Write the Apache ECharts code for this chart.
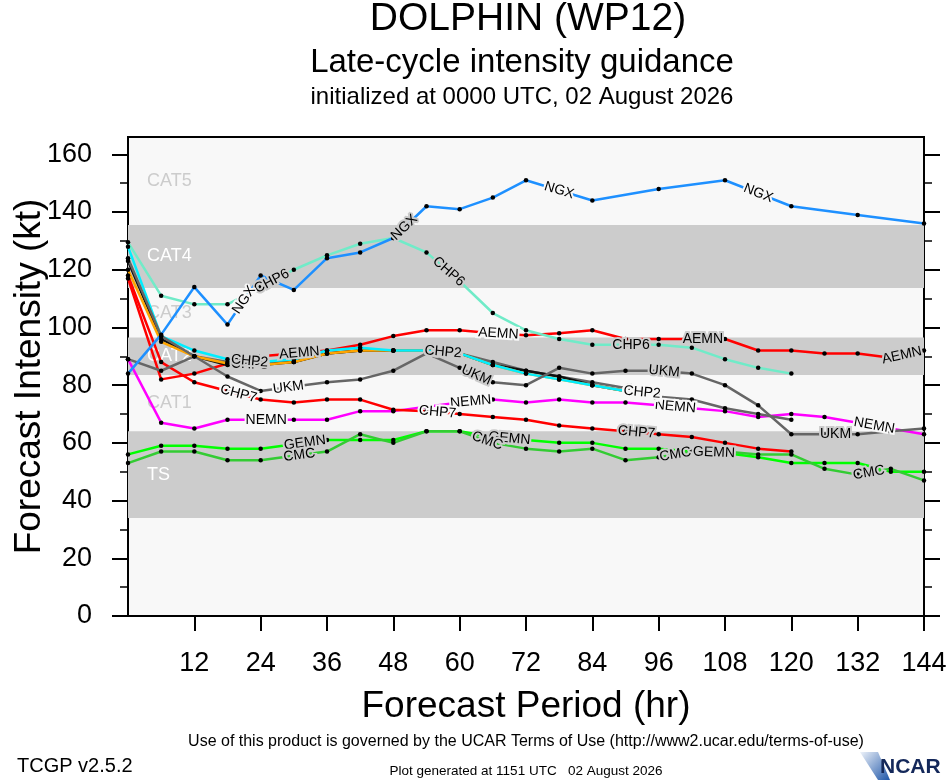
<!doctype html>
<html>
<head>
<meta charset="utf-8">
<title>DOLPHIN (WP12) late-cycle intensity guidance</title>
<style>
html, body { margin: 0; padding: 0; background: #fff; }
#chart { width: 946px; height: 780px; }
</style>
</head>
<body>
<div id="chart"></div>
<script src="https://cdn.jsdelivr.net/npm/echarts@6/dist/echarts.min.js"></script>
<script>
// forecast hours (6-hourly), ticks
const hours = [0, 6, 12, 18, 24, 30, 36, 42, 48, 54, 60, 66, 72, 78, 84, 90, 96, 102, 108, 114, 120, 126, 132, 138, 144];
const xTicks = [12, 24, 36, 48, 60, 72, 84, 96, 108, 120, 132, 144];
const yTicks = [0, 20, 40, 60, 80, 100, 120, 140, 160];
const yMinorTicks = [10, 30, 50, 70, 90, 110, 130, 150];

// intensity categories (kt)
const bandNames = ['TS', 'CAT1', 'CAT2', 'CAT3', 'CAT4', 'CAT5'];
const bandLow = [34, 64, 83.5, 96.5, 113.7, 135.5];
const bandHigh = [64, 83.5, 96.5, 113.7, 135.5, 166];
const bandShaded = [true, false, true, false, true, false];

// model intensities (kt), one value per entry of hours, null = no forecast
const gemn = [56, 59, 59, 58, 58, 59.5, 61, 61, 61, 64, 64, 62, 61, 60, 60, 58, 58, 57, 56.5, 55, 53, 53, 53, 50, 50];
const cmc  = [53, 57, 57, 54, 54, 55.5, 57, 63, 60, 64, 64, 60, 58, 57, 58, 54, 55, 57, 57, 56, 56, 51, 49, 51, 47];
const nemn = [89, 67, 65, 68, 68, 68, 68, 71, 71, 72.5, 74, 75, 74, 75, 74, 74, 73, 72, 71, 69, 70, 69, 67, 65, 63];
const chp7 = [118, 88, 81, 78, 75, 74, 75, 75, 71.5, 71, 70, 69, 68, 66, 65, 64, 63, 62, 60, 58, 57, null, null, null, null];
const aemn = [117, 82, 84, 87.5, 90, 91, 92, 94, 97, 99, 99, 98, 97.3, 98, 99, 96, 96, 96, 96, 92, 92, 91, 91, 89.5, 92];
const chp5 = [89, 85, 90, 88, 88, 88, 91, 92, 92, 92, 91, 88, 85, 83, 81, 79, 76, 75, 72, 70, 68, null, null, null, null];
const chp4 = [123, 96, 90, 87, 87, 88, 91, 92, 92, 92, 91, 87, 85, 83, 80, 78, 77, null, null, null, null, null, null, null, null];
const chp3 = [120, 95, 90, 87.5, 87, 88, 91, 92, 92, 92, 91, 87, 84, 82, 80, 78, 77, null, null, null, null, null, null, null, null];
const chp2 = [128, 97, 92, 89, 88, 89, 92, 93, 92, 92, 91, 87, 84, 82, 80, 78, 77, null, null, null, null, null, null, null, null];
const ukm  = [124, 97, 90, 83, 78, 79.5, 81, 82, 85, 91, 86, 81, 80, 86, 84, 85, 85, 84, 80, 73, 63, 63, 63, 64, 65];
const chp6 = [129.5, 111, 108, 108, 114, 120, 125, 129, 131, 126, 116, 105, 99, 96, 94, 94, 94, 93, 89, 86, 84, null, null, null, null];
const ngx  = [84, 97.5, 114, 101, 118, 113, 124, 126, 131, 142, 141, 145, 151, null, 144, null, 148, null, 151, null, 142, null, 139, null, 136];

// hours at which each model's name is written along its line
const gemnLabelHours = [32, 69, 106];
const cmcLabelHours = [31, 65, 99, 134];
const nemnLabelHours = [25, 62, 99, 135];
const chp7LabelHours = [20, 56, 92];
const aemnLabelHours = [31, 67, 104, 140];
const clusterLabelHours = [22, 57, 93];
const ukmLabelHours = [29, 63, 97, 128];
const chp6LabelHours = [26, 58, 91];
const ngxLabelHours = [21, 50, 78, 114];

const models = [
    { name: 'GEMN', data: gemn, color: '#00ff00', labels: gemnLabelHours },
    { name: 'CMC',  data: cmc,  color: '#33cc33', labels: cmcLabelHours },
    { name: 'NEMN', data: nemn, color: '#ff00ff', labels: nemnLabelHours },
    { name: 'CHP7', data: chp7, color: '#ff0000', labels: chp7LabelHours },
    { name: 'AEMN', data: aemn, color: '#ff0000', labels: aemnLabelHours },
    { name: 'CHP5', data: chp5, color: '#666666', labels: clusterLabelHours },
    { name: 'CHP4', data: chp4, color: '#111111', labels: clusterLabelHours },
    { name: 'CHP3', data: chp3, color: '#ffa500', labels: clusterLabelHours },
    { name: 'CHP2', data: chp2, color: '#00eeff', labels: clusterLabelHours },
    { name: 'UKM',  data: ukm,  color: '#666666', labels: ukmLabelHours },
    { name: 'CHP6', data: chp6, color: '#70ebc8', labels: chp6LabelHours },
    { name: 'NGX',  data: ngx,  color: '#1e90ff', labels: ngxLabelHours }
];

const FONT = '"Liberation Sans", Arial, Helvetica, sans-serif';
const PLOT_BG = '#f8f8f8';
const BAND_GRAY = '#cccccc';

const points = arr => hours.map((h, i) => arr[i] == null ? null : [h, arr[i]]).filter(p => p);

function segmentAt(p, h) {
    for (let i = 0; i < p.length - 1; i++) {
        if (p[i][0] <= h && p[i + 1][0] > h) return [p[i], p[i + 1]];
    }
    return [p[p.length - 2], p[p.length - 1]];
}

function bgAt(v) {
    for (let i = 0; i < bandNames.length; i++) {
        if (v >= bandLow[i] && v < bandHigh[i]) return bandShaded[i] ? BAND_GRAY : PLOT_BG;
    }
    return PLOT_BG;
}

const bandAreas = bandNames.map((n, i) => [
    {
        name: n,
        yAxis: bandLow[i],
        itemStyle: { color: bandShaded[i] ? BAND_GRAY : 'rgba(0,0,0,0)' },
        label: { color: bandShaded[i] ? '#ffffff' : '#cccccc' }
    },
    { yAxis: bandHigh[i] }
]);

const axisBlack = { color: '#000', width: 2 };
const yBase = { type: 'value', min: 0, max: 166, splitLine: { show: false } };

const chart = echarts.init(document.getElementById('chart'));

const option = {
    animation: false,
    backgroundColor: '#ffffff',
    textStyle: { fontFamily: FONT },
    grid: {
        left: 128, right: 22, top: 137, bottom: 164,
        containLabel: false, outerBoundsMode: 'none',
        show: true, backgroundColor: PLOT_BG, borderColor: '#000', borderWidth: 2
    },
    xAxis: {
        type: 'value', min: 0, max: 144,
        splitLine: { show: false },
        axisLine: { lineStyle: axisBlack },
        axisTick: { customValues: xTicks, length: 15, lineStyle: axisBlack },
        axisLabel: { customValues: xTicks, fontSize: 27, color: '#000', margin: 34, fontFamily: FONT },
        name: 'Forecast Period (hr)', nameLocation: 'middle', nameGap: 72,
        nameTextStyle: { fontSize: 37, color: '#000', fontFamily: FONT }
    },
    yAxis: [
        Object.assign({}, yBase, {
            position: 'left',
            axisLine: { show: true, lineStyle: axisBlack },
            axisTick: { customValues: yTicks, length: 16, lineStyle: axisBlack },
            axisLabel: { customValues: yTicks, fontSize: 27, color: '#000', margin: 36, fontFamily: FONT },
            name: 'Forecast Intensity (kt)', nameLocation: 'middle', nameGap: 80, nameMoveOverlap: false,
            nameTextStyle: { fontSize: 37, color: '#000', fontFamily: FONT }
        }),
        Object.assign({}, yBase, {
            position: 'left',
            axisLine: { show: false },
            axisTick: { customValues: yMinorTicks, length: 8, lineStyle: { color: '#000', width: 1.5 } },
            axisLabel: { show: false }
        }),
        Object.assign({}, yBase, {
            position: 'right',
            axisLine: { show: true, lineStyle: axisBlack },
            axisTick: { customValues: yTicks, length: 16, lineStyle: axisBlack },
            axisLabel: { show: false }
        }),
        Object.assign({}, yBase, {
            position: 'right',
            axisLine: { show: false },
            axisTick: { customValues: yMinorTicks, length: 8, lineStyle: { color: '#000', width: 1.5 } },
            axisLabel: { show: false }
        })
    ],
    series: [{
        name: 'bands', type: 'line', data: [], z: 1, silent: true,
        markArea: {
            silent: true,
            label: { show: true, position: 'insideLeft', distance: 19, fontSize: 18, fontFamily: FONT },
            data: bandAreas
        }
    }].concat(models.map(m => ({
        name: m.name,
        type: 'line',
        data: points(m.data),
        z: 3,
        lineStyle: { color: m.color, width: 2.5 },
        itemStyle: { color: '#000' },
        symbol: 'circle',
        symbolSize: 4.5,
        showSymbol: true
    }))),
    graphic: [
        { type: 'text', style: { text: 'DOLPHIN (WP12)', x: 528, y: 19, textAlign: 'center', textVerticalAlign: 'middle', font: '39px ' + FONT, fill: '#000' } },
        { type: 'text', style: { text: 'Late-cycle intensity guidance', x: 522, y: 63, textAlign: 'center', textVerticalAlign: 'middle', font: '33px ' + FONT, fill: '#000' } },
        { type: 'text', style: { text: 'initialized at 0000 UTC, 02 August 2026', x: 522, y: 97, textAlign: 'center', textVerticalAlign: 'middle', font: '24px ' + FONT, fill: '#000' } },
        { type: 'text', style: { text: 'Use of this product is governed by the UCAR Terms of Use (http://www2.ucar.edu/terms-of-use)', x: 526, y: 742, textAlign: 'center', textVerticalAlign: 'middle', font: '16px ' + FONT, fill: '#000' } },
        { type: 'text', style: { text: 'TCGP v2.5.2', x: 17, y: 766, textAlign: 'left', textVerticalAlign: 'middle', font: '20px ' + FONT, fill: '#000' } },
        { type: 'text', style: { text: 'Plot generated at 1151 UTC   02 August 2026', x: 526, y: 771, textAlign: 'center', textVerticalAlign: 'middle', font: '13.5px ' + FONT, fill: '#000' } },
        {
            type: 'polygon',
            shape: { points: [[860, 752], [878, 752], [890, 780], [878, 780]] },
            style: {
                fill: new echarts.graphic.LinearGradient(0, 0, 1, 1, [
                    { offset: 0, color: '#eef3fa' }, { offset: 1, color: '#1f56a8' }
                ])
            }
        },
        { type: 'text', style: { text: 'NCAR', x: 880, y: 767, textAlign: 'left', textVerticalAlign: 'middle', font: 'bold 21px ' + FONT, fill: '#14285a' } }
    ]
};

chart.setOption(option);

// model names written along the lines, rotated with the local segment
const labelSeries = models.map(m => {
    const p = points(m.data);
    return {
        name: m.name,
        markPoint: {
            silent: true,
            symbol: 'rect',
            symbolSize: 1,
            itemStyle: { color: 'rgba(0,0,0,0)' },
            label: {
                show: true, position: 'inside', formatter: m.name,
                color: '#000', fontSize: 14, fontFamily: FONT, textBorderWidth: 4
            },
            data: m.labels.map(h => {
                const seg = segmentAt(p, h);
                const a = seg[0], b = seg[1];
                const v = a[1] + (b[1] - a[1]) * (h - a[0]) / (b[0] - a[0]);
                const pa = chart.convertToPixel({ gridIndex: 0 }, a);
                const pb = chart.convertToPixel({ gridIndex: 0 }, b);
                const deg = Math.atan2(pa[1] - pb[1], pb[0] - pa[0]) * 180 / Math.PI;
                return { coord: [h, v], label: { rotate: deg, textBorderColor: bgAt(v) } };
            })
        }
    };
});

chart.setOption({ series: [{ name: 'bands' }].concat(labelSeries) });
</script>
</body>
</html>
